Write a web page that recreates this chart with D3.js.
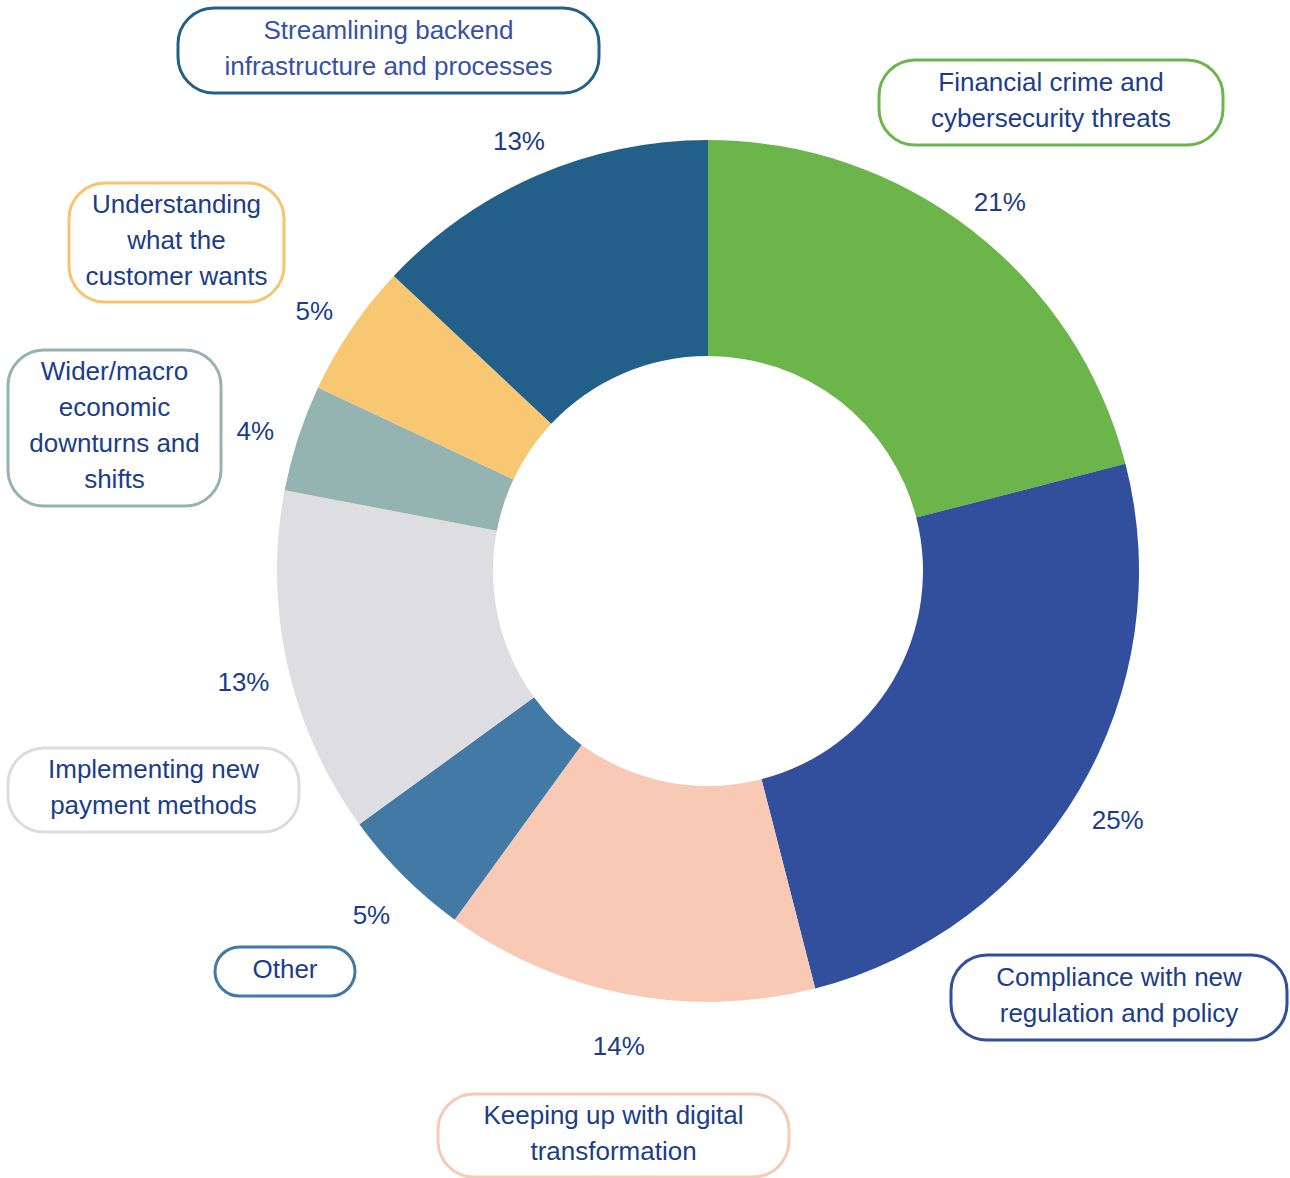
<!DOCTYPE html>
<html>
<head>
<meta charset="utf-8">
<script src="https://cdn.jsdelivr.net/npm/d3@7"></script>
<style>
  body { margin: 0; background: #fff; }
  svg { display: block; font-family: "Liberation Sans", Arial, sans-serif; }
</style>
</head>
<body>
<div id="chart"></div>
<script>
const width = 1290, height = 1178;

// data
const categories = [
  "Financial crime and cybersecurity threats",
  "Compliance with new regulation and policy",
  "Keeping up with digital transformation",
  "Other",
  "Implementing new payment methods",
  "Wider/macro economic downturns and shifts",
  "Understanding what the customer wants",
  "Streamlining backend infrastructure and processes"
];
const values = [21, 25, 14, 5, 13, 4, 5, 13];
const colors = ["#6cb54b", "#324f9e", "#f8c9b5", "#4279a5", "#dedde2", "#95b3b1", "#f8c772", "#236089"];
const borderColors = ["#6cb54b", "#324f9e", "#f8c9b5", "#4279a5", "#dcdce0", "#95b3b1", "#f6c36e", "#236089"];
const labelLines = [
  ["Financial crime and", "cybersecurity threats"],
  ["Compliance with new", "regulation and policy"],
  ["Keeping up with digital", "transformation"],
  ["Other"],
  ["Implementing new", "payment methods"],
  ["Wider/macro", "economic", "downturns and", "shifts"],
  ["Understanding", "what the", "customer wants"],
  ["Streamlining backend", "infrastructure and processes"]
];

// label box layout [x0, y0, x1, y1]
const boxes = [
  [879, 60, 1223, 145],
  [951, 955, 1287, 1040],
  [438, 1094, 789, 1177],
  [215, 947, 355, 996],
  [8, 748, 299, 832],
  [8, 350, 221, 506],
  [69, 183, 284, 302],
  [178, 8, 599, 93]
];

const cx = 708, cy = 571;
const outerR = 431, innerR = 215, pctR = 476;
const fontSize = 26, lineH = 36;
const textColor = "#1b3d8a";

const svg = d3.select("#chart")
  .append("svg")
  .attr("width", width)
  .attr("height", height);

const pie = d3.pie().sort(null).value(d => d);
const arcs = pie(values);

const arc = d3.arc().innerRadius(innerR).outerRadius(outerR);
const labelArc = d3.arc().innerRadius(pctR).outerRadius(pctR);

const g = svg.append("g").attr("transform", `translate(${cx},${cy})`);

g.selectAll("path.slice")
  .data(arcs)
  .join("path")
  .attr("class", "slice")
  .attr("d", arc)
  .attr("fill", (d, i) => colors[i]);

// percentage labels
g.selectAll("text.pct")
  .data(arcs)
  .join("text")
  .attr("class", "pct")
  .attr("x", d => labelArc.centroid(d)[0])
  .attr("y", d => labelArc.centroid(d)[1])
  .attr("dy", "0.62em")
  .attr("text-anchor", "middle")
  .attr("font-size", fontSize)
  .attr("fill", textColor)
  .text(d => d.data + "%");

// category boxes
const lab = svg.selectAll("g.lab")
  .data(categories)
  .join("g")
  .attr("class", "lab");

lab.append("rect")
  .attr("x", (d, i) => boxes[i][0])
  .attr("y", (d, i) => boxes[i][1])
  .attr("width", (d, i) => boxes[i][2] - boxes[i][0])
  .attr("height", (d, i) => boxes[i][3] - boxes[i][1])
  .attr("rx", (d, i) => Math.min(36, (boxes[i][3] - boxes[i][1]) / 2))
  .attr("fill", "#fff")
  .attr("stroke", (d, i) => borderColors[i])
  .attr("stroke-width", 3);

lab.each(function (d, i) {
  const b = boxes[i];
  const mx = (b[0] + b[2]) / 2, my = (b[1] + b[3]) / 2;
  const lines = labelLines[i];
  d3.select(this).selectAll("text")
    .data(lines)
    .join("text")
    .attr("x", mx)
    .attr("y", (t, j) => my + (j - (lines.length - 1) / 2) * lineH)
    .attr("dy", "0.24em")
    .attr("text-anchor", "middle")
    .attr("font-size", fontSize)
    .attr("fill", i === 7 ? "#3651a6" : textColor)
    .text(t => t);
});
</script>
</body>
</html>
